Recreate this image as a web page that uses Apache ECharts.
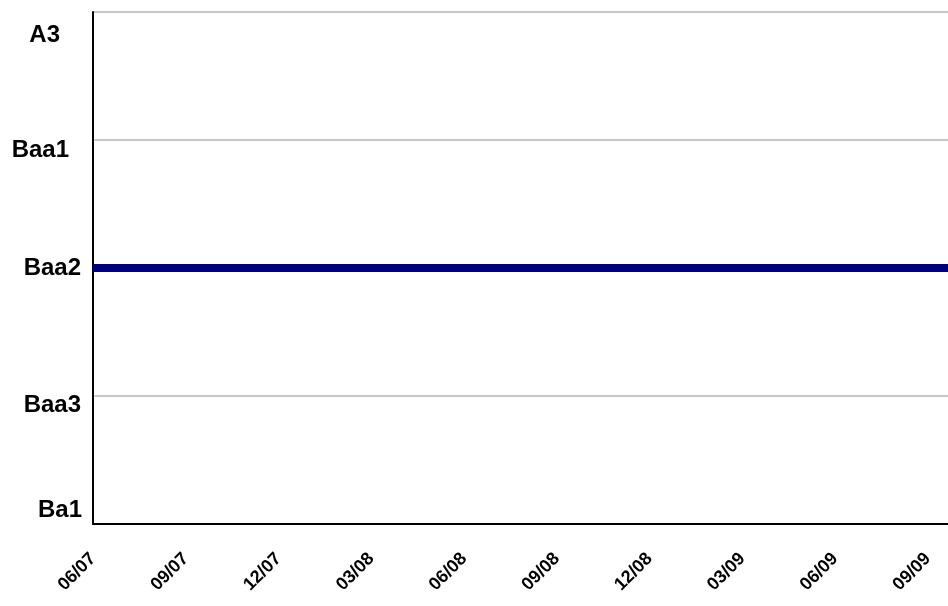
<!DOCTYPE html>
<html>
<head>
<meta charset="utf-8">
<script src="https://cdn.jsdelivr.net/npm/echarts@6/dist/echarts.min.js"></script>
<style>
  html, body { margin: 0; padding: 0; background: #fff; }
  #chart { width: 948px; height: 606px; }
</style>
</head>
<body>
<div id="chart"></div>
<script>
// rating scale, bottom to top
const ratingScale = ['Ba1', 'Baa3', 'Baa2', 'Baa1', 'A3']

// monthly observations, 06/07 .. 10/09
const months = [
  '06/07', '07/07', '08/07', '09/07', '10/07', '11/07', '12/07',
  '01/08', '02/08', '03/08', '04/08', '05/08', '06/08', '07/08', '08/08',
  '09/08', '10/08', '11/08', '12/08', '01/09', '02/09', '03/09', '04/09',
  '05/09', '06/09', '07/09', '08/09', '09/09', '10/09'
]
const ratings = [
  'Baa2', 'Baa2', 'Baa2', 'Baa2', 'Baa2', 'Baa2', 'Baa2',
  'Baa2', 'Baa2', 'Baa2', 'Baa2', 'Baa2', 'Baa2', 'Baa2', 'Baa2',
  'Baa2', 'Baa2', 'Baa2', 'Baa2', 'Baa2', 'Baa2', 'Baa2', 'Baa2',
  'Baa2', 'Baa2', 'Baa2', 'Baa2', 'Baa2', 'Baa2'
]

// quarterly tick labels on the x axis (months from 06/07)
const tickLabels = ['06/07', '09/07', '12/07', '03/08', '06/08', '09/08', '12/08', '03/09', '06/09', '09/09']
const tickMonths = [0, 3, 6, 9, 12, 15, 18, 21, 24, 27]

const seriesData = months.map((m, i) => [i, ratingScale.indexOf(ratings[i])])

const labelRich = {
  r0: { padding: [0, 11, 28, 0] },
  r1: { padding: [18, 12, 0, 0] },
  r2: { padding: [0, 12, 0, 0] },
  r3: { padding: [20, 24, 0, 0] },
  r4: { padding: [46, 33, 0, 0] }
}

const chart = echarts.init(document.getElementById('chart'))
chart.setOption({
  animation: false,
  grid: { left: 93, right: 0, top: 12, bottom: 82 },
  xAxis: {
    type: 'value',
    min: 0,
    max: 27.65,
    axisLine: { show: true, onZero: false, lineStyle: { color: '#000', width: 2 } },
    axisTick: { show: false },
    splitLine: { show: false },
    axisLabel: {
      customValues: tickMonths,
      rotate: 45,
      margin: 32,
      color: '#000',
      fontFamily: 'Liberation Sans, Arial, sans-serif',
      fontWeight: 'bold',
      fontSize: 18,
      formatter: (v) => tickLabels[tickMonths.indexOf(v)] || ''
    }
  },
  yAxis: {
    type: 'value',
    min: 0,
    max: 4,
    interval: 1,
    axisLine: { show: true, onZero: false, lineStyle: { color: '#000', width: 2 } },
    axisTick: { show: false },
    splitLine: { show: true, lineStyle: { color: '#c8c8c8', width: 2 } },
    axisLabel: {
      margin: 0,
      color: '#000',
      fontFamily: 'Liberation Sans, Arial, sans-serif',
      fontWeight: 'bold',
      fontSize: 24,
      formatter: (v) => `{r${v}|${ratingScale[v]}}`,
      rich: labelRich
    }
  },
  series: [
    {
      type: 'line',
      data: seriesData,
      symbol: 'none',
      clip: true,
      lineStyle: { color: '#000080', width: 8, cap: 'butt' }
    }
  ]
})
</script>
</body>
</html>
